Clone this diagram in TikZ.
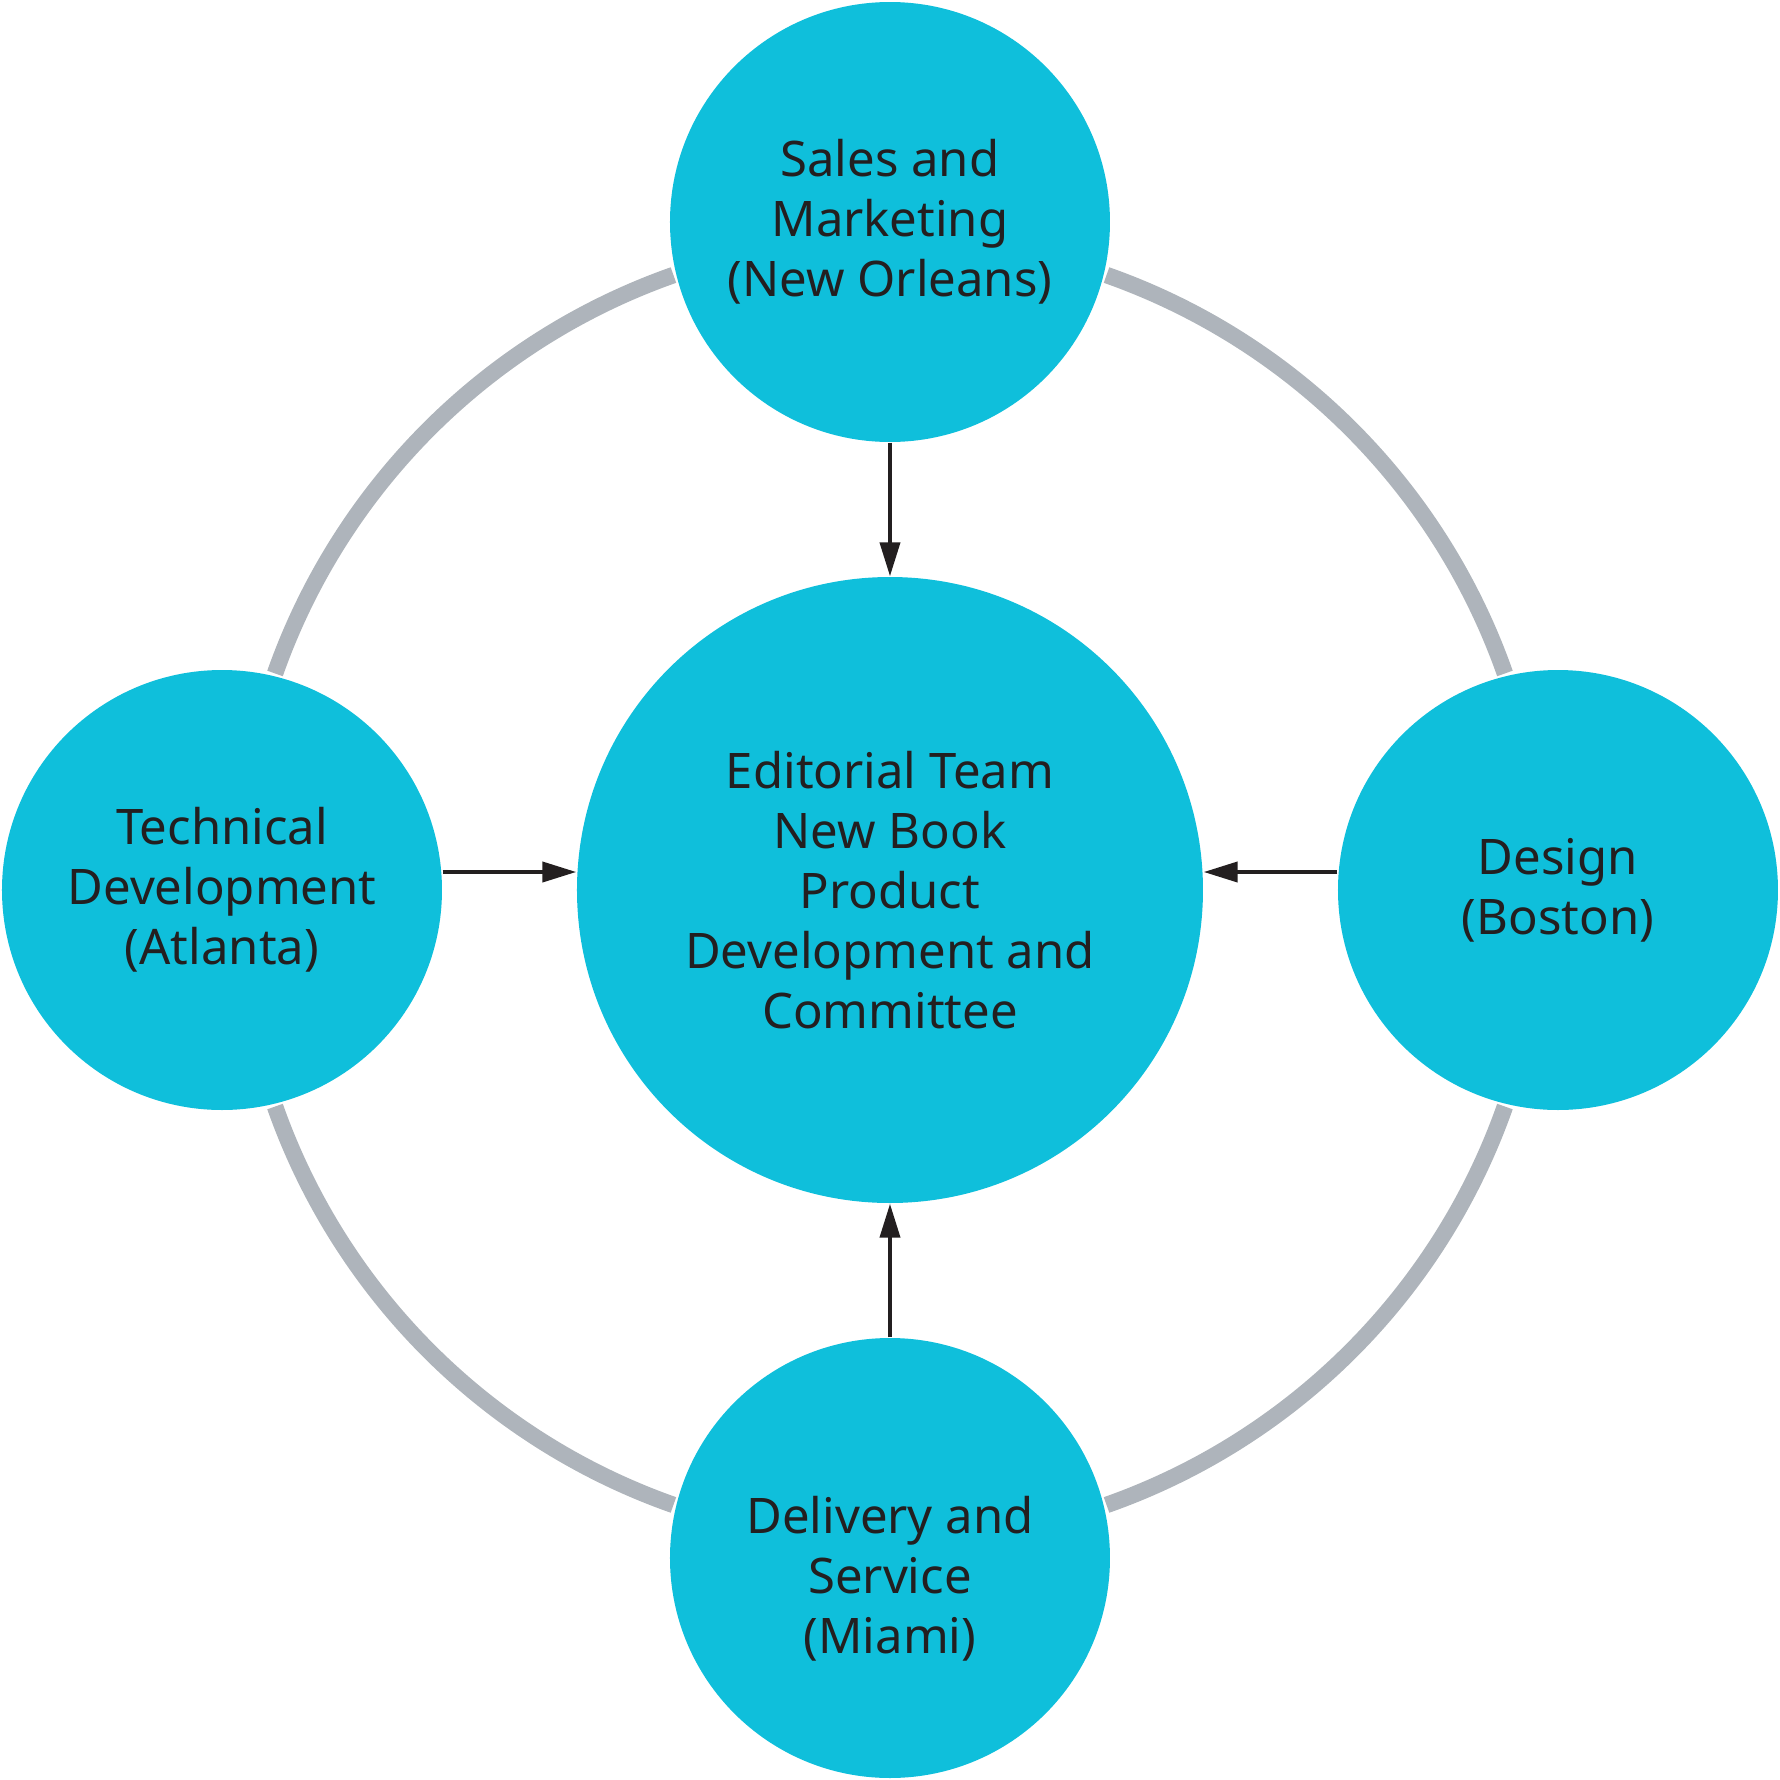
\documentclass[tikz,border=0pt]{standalone}
\usepackage{fontspec}
\setmainfont{Noto Sans}
\usetikzlibrary{calc,arrows.meta}
\definecolor{teamcyan}{HTML}{0FBFDB}
\definecolor{ringgray}{HTML}{AEB4BB}
\definecolor{inkblack}{HTML}{231F20}
\def\ringarc[#1](#2)(#3:#4:#5){\draw[#1] ($(#2)+({#5*cos(#3)},{#5*sin(#3)})$) arc (#3:#4:#5);}

\begin{document}
\begin{tikzpicture}[
		teamtext/.style={text=inkblack, align=center, font=\fontsize{13.95}{17.07}\selectfont},
		team/.style={circle, fill=teamcyan, teamtext, inner sep=0pt, minimum size=4.4cm},
		hub/.style={team, minimum size=6.26cm},
		feed/.style={draw=inkblack, line width=0.04cm, -{Triangle[length=3.4mm,width=2mm]}},
		ring/.style={draw=ringgray, line width=0.165cm}
	]
		%%%%% START %%%%%
		
		\useasboundingbox (-8.9, -8.9) rectangle (8.9, 8.9);
		
		\ringarc[ring](0, 0)(19.4:70.6:6.52);
		\ringarc[ring](0, 0)(109.4:160.6:6.52);
		\ringarc[ring](0, 0)(199.4:250.6:6.52);
		\ringarc[ring](0, 0)(289.4:340.6:6.52);
		
		\node[hub] (editorial) at (0, 0) {Editorial Team\\New Book\\Product\\Development and\\Committee};
		\node[team] (sales) at (0, 6.68) {Sales and\\Marketing\\(New Orleans)};
		\node[team] (tech) at (-6.68, 0) {Technical\\Development\\(Atlanta)};
		\node[team] (design) at (6.68, 0) {Design\\(Boston)};
		\node[team, label={[teamtext, yshift=-0.21cm]center:Delivery and\\Service\\(Miami)}] (delivery) at (0, -6.68) {};
		
		\draw[feed] (sales.south) -- (editorial.north);
		\draw[feed] (delivery.north) -- (editorial.south);
		\draw[feed] ([yshift=0.18cm]tech.east) -- ([yshift=0.18cm]editorial.west);
		\draw[feed] ([yshift=0.18cm]design.west) -- ([yshift=0.18cm]editorial.east);
		
		%%%%% END %%%%%
	\end{tikzpicture}
\end{document}
